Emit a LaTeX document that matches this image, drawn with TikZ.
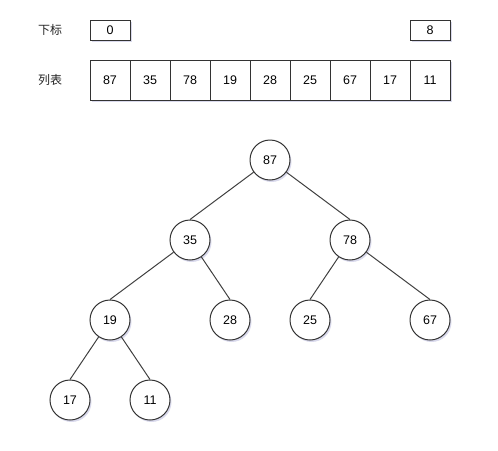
\documentclass[tikz,border=0pt]{standalone}
\usepackage{fontspec}
\setmainfont{Liberation Sans}
\newfontfamily\cjk{Noto Sans CJK SC}
\usetikzlibrary{shadows}
\begin{document}
\begin{tikzpicture}[x=1pt,y=-1pt,
  shd/.style={drop shadow={shadow xshift=1.5pt,shadow yshift=-2pt,fill=black!50!blue!50,opacity=0.3}},
  cell/.style={draw=black!80,line width=1pt,fill=white,minimum width=40pt,minimum height=40pt,inner sep=0pt,font=\fontsize{12.5}{14}\selectfont,shd},
  idx/.style={draw=black!80,line width=1pt,fill=white,minimum width=40pt,minimum height=20pt,inner sep=0pt,font=\fontsize{12.5}{14}\selectfont,shd},
  lbl/.style={font=\cjk\fontsize{12}{14}\selectfont,text=black!85},
  tn/.style={circle,draw=black!80,line width=1pt,fill=white,minimum size=40pt,inner sep=0pt,font=\fontsize{12.5}{14}\selectfont,shd},
  edge/.style={draw=black!75,line width=1pt}]
\useasboundingbox (0,0) rectangle (498,450);
\node[lbl] (l1) at (50,30) {下标};
\node[lbl] (l2) at (50,80) {列表};
\node[idx] (i0) at (110,30) {0};
\node[idx] (i8) at (430,30) {8};
\foreach \v [count=\i from 0] in {87,35,78,19,28,25,67,17,11}{
  \node[cell] (c\i) at (110+40*\i,80) {\v};
}
\node[tn] (t87) at (270,160) {87};
\node[tn] (t35) at (190,240) {35};
\node[tn] (t78) at (350,240) {78};
\node[tn] (t19) at (110,320) {19};
\node[tn] (t28) at (230,320) {28};
\node[tn] (t25) at (310,320) {25};
\node[tn] (t67) at (430,320) {67};
\node[tn] (t17) at (70,400) {17};
\node[tn] (t11) at (150,400) {11};
\draw[edge] (t87) -- (t35.north);
\draw[edge] (t87) -- (t78.north);
\draw[edge] (t35) -- (t19.north);
\draw[edge] (t35) -- (t28.north);
\draw[edge] (t78) -- (t25.north);
\draw[edge] (t78) -- (t67.north);
\draw[edge] (t19) -- (t17.north);
\draw[edge] (t19) -- (t11.north);
\end{tikzpicture}
\end{document}
